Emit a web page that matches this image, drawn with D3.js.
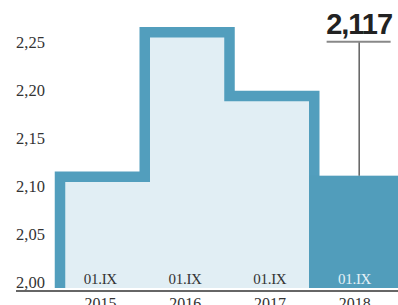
<!DOCTYPE html>
<html>
  <head>
    <style>
      body,
      html {
        margin: 0;
        padding: 0;
        background: #fff;
      }
    </style>
  </head>
  <body>
    <svg id="svg" width="398" height="305"></svg>

    <script src="https://cdn.jsdelivr.net/npm/d3@7"></script>
    <script>
      const years = ['2015', '2016', '2017', '2018'];
      const dates = ['01.IX', '01.IX', '01.IX', '01.IX'];
      const values = [2.116, 2.2665, 2.2, 2.117];
      const yTicks = [2.0, 2.05, 2.1, 2.15, 2.2, 2.25];
      const highlight = '2,117';

      const svg = d3.select('#svg');
      const xScale = d3.scaleBand().domain(years).range([60, 399]);
      const yScale = d3.scaleLinear().domain([2.0, 2.25]).range([288, 48]);
      const bw = xScale.bandwidth();
      const base = yScale(2.0);

      // step outline for the past years
      const past = years.slice(0, 3).map((y, i) => ({ x: xScale(y), v: values[i] }));
      past.push({ x: xScale(years[2]) + bw, v: values[2] });

      const area = d3
        .area()
        .x((d) => d.x)
        .y0(base)
        .y1((d) => yScale(d.v))
        .curve(d3.curveStepAfter);
      svg.append('path').attr('d', area(past)).attr('fill', '#e1eef4');

      const pts = [[past[0].x, base]];
      past.forEach((d, i) => {
        if (i > 0) pts.push([d.x, yScale(past[i - 1].v)]);
        pts.push([d.x, yScale(d.v)]);
      });
      pts.push([past[3].x, base]);
      svg
        .append('path')
        .attr('d', d3.line()(pts))
        .attr('fill', 'none')
        .attr('stroke', '#529ebd')
        .attr('stroke-width', 10.5)
        .attr('stroke-linejoin', 'miter');

      // current year bar
      svg
        .append('rect')
        .attr('x', xScale('2018') - 5)
        .attr('y', yScale(values[3]))
        .attr('width', bw + 10)
        .attr('height', base - yScale(values[3]))
        .attr('fill', '#519dbb');

      // y tick labels
      svg
        .selectAll('.ytick')
        .data(yTicks)
        .join('text')
        .attr('x', 16)
        .attr('y', (d) => yScale(d))
        .attr('font-family', 'Liberation Serif')
        .attr('font-size', 16.5)
        .attr('fill', '#333')
        .text((d) => d3.format('.2f')(d).replace('.', ','));

      // axis line
      svg
        .append('line')
        .attr('x1', 16)
        .attr('x2', 398)
        .attr('y1', 291)
        .attr('y2', 291)
        .attr('stroke', '#333')
        .attr('stroke-width', 1.4);

      // date labels inside bars
      svg
        .selectAll('.date')
        .data(years)
        .join('text')
        .attr('x', (d) => xScale(d) + bw / 2 - 2)
        .attr('y', 284)
        .attr('text-anchor', 'middle')
        .attr('font-family', 'Liberation Serif')
        .attr('font-size', 15)
        .attr('letter-spacing', -0.3)
        .attr('fill', (d, i) => (i === 3 ? '#e6f2f7' : '#333'))
        .text((d, i) => dates[i]);

      // year labels (cut by the bottom edge, as in the print)
      svg
        .selectAll('.year')
        .data(years)
        .join('text')
        .attr('x', (d) => xScale(d) + bw / 2 - 2)
        .attr('y', 309)
        .attr('text-anchor', 'middle')
        .attr('font-family', 'Liberation Serif')
        .attr('font-size', 16)
        .attr('fill', '#333')
        .text((d) => d);

      // annotation
      const ax = xScale('2018') + bw / 2 + 2.5;
      svg
        .append('line')
        .attr('x1', ax)
        .attr('x2', ax)
        .attr('y1', 42)
        .attr('y2', yScale(values[3]))
        .attr('stroke', '#111')
        .attr('stroke-width', 1);
      svg
        .append('line')
        .attr('x1', ax - 32.5)
        .attr('x2', ax + 31.5)
        .attr('y1', 41.7)
        .attr('y2', 41.7)
        .attr('stroke', '#888')
        .attr('stroke-width', 2);
      svg
        .append('text')
        .attr('x', ax)
        .attr('y', 34.3)
        .attr('text-anchor', 'middle')
        .attr('font-family', 'Liberation Sans')
        .attr('font-weight', 'bold')
        .attr('font-size', 29)
        .attr('letter-spacing', -1)
        .attr('fill', '#222')
        .text(highlight);
    </script>
  </body>
</html>
